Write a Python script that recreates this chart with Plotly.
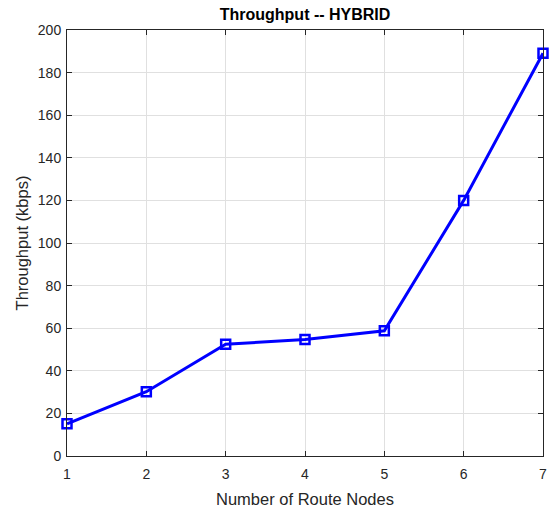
import plotly.graph_objects as go

nodes = [1, 2, 3, 4, 5, 6, 7]
throughput = [15.1, 30.2, 52.5, 54.7, 58.8, 120.0, 189.1]
x_ticks = [1, 2, 3, 4, 5, 6, 7]
y_ticks = [0, 20, 40, 60, 80, 100, 120, 140, 160, 180, 200]

fig = go.Figure()
fig.add_trace(go.Scatter(
    x=nodes, y=throughput, mode="lines+markers",
    line=dict(color="#0000ff", width=3),
    marker=dict(symbol="square-open", size=9, color="#0000ff", line=dict(width=2.5, color="#0000ff")),
    cliponaxis=False,
    showlegend=False,
))

axis_common = dict(
    showline=True, linecolor="#262626", linewidth=1, mirror="ticks",
    ticks="inside", ticklen=5, tickcolor="#262626", tickwidth=1,
    showgrid=True, gridcolor="#e0e0e0", gridwidth=1, zeroline=False,
    tickfont=dict(family="Liberation Sans, Arial", size=14, color="#262626"),
)

fig.update_layout(
    width=552, height=509,
    margin=dict(l=67, r=9, t=30, b=53, autoexpand=False),
    paper_bgcolor="white", plot_bgcolor="white",
    title=dict(text="<b>Throughput -- HYBRID</b>", x=0.5526, xanchor="center", y=0.972, yanchor="middle",
               font=dict(family="Liberation Sans, Arial", size=16, color="#000000")),
    xaxis=dict(range=[1, 7], tickvals=x_ticks, ticktext=[str(v) for v in x_ticks],
               ticklabelstandoff=5, automargin=False,
               title=dict(text="Number of Route Nodes", standoff=12,
                          font=dict(family="Liberation Sans, Arial", size=16.5, color="#262626")),
               **axis_common),
    yaxis=dict(range=[0, 200], tickvals=y_ticks, ticktext=[str(v) for v in y_ticks],
               ticklabelstandoff=2, automargin=False,
               title=dict(text="Throughput (kbps)", standoff=5,
                          font=dict(family="Liberation Sans, Arial", size=16.5, color="#262626")),
               **axis_common),
)

fig.write_html("out.html")
